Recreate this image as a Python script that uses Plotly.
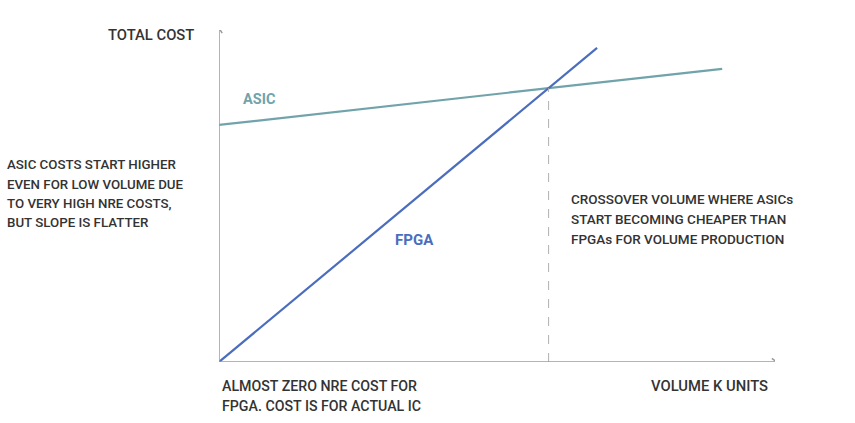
import plotly.graph_objects as go

# ---- data (volume in arbitrary K units, cost in arbitrary units) ----
asic_volume = [0, 90.5]
asic_cost = [71.4, 88.3]
fpga_volume = [0, 68.0]
fpga_cost = [0, 94.6]

W, H = 855, 423
L, R, T, B = 219, 80, 30, 61
PW, PH = W - L - R, H - T - B
XMAX, YMAX = 100, 100

def px(x):
    return (x - L) / PW

def py(y):
    return (H - B - y) / PH

# crossover
sa = (asic_cost[1] - asic_cost[0]) / (asic_volume[1] - asic_volume[0])
sf = (fpga_cost[1] - fpga_cost[0]) / (fpga_volume[1] - fpga_volume[0])
xc = (asic_cost[0] - fpga_cost[0]) / (sf - sa)
yc = asic_cost[0] + sa * xc

TEAL = "#70a3aa"
BLUE = "#4b6dbd"
AX = "#9b9b9b"
TXT = "#333333"
FONT = "Roboto, 'Liberation Sans', sans-serif"

fig = go.Figure()
fig.add_trace(go.Scatter(x=asic_volume, y=asic_cost, mode="lines",
                         line=dict(color=TEAL, width=2.2), hoverinfo="skip"))
fig.add_trace(go.Scatter(x=fpga_volume, y=fpga_cost, mode="lines",
                         line=dict(color=BLUE, width=2.2), hoverinfo="skip"))
fig.add_trace(go.Scatter(x=[xc, xc], y=[0, yc], mode="lines",
                         line=dict(color="#b0b0b0", width=1, dash="dash"), hoverinfo="skip"))

shapes = []
shapes.append(dict(type="line", xref="x", yref="y", x0=0, y0=0, x1=0, y1=YMAX + 0.6,
                   line=dict(color=AX, width=1.5)))
shapes.append(dict(type="line", xref="x", yref="y", x0=0, y0=0, x1=XMAX + 0.3, y1=0,
                   line=dict(color=AX, width=1.5)))
dxu, dyu = 4 / PW * XMAX, 4 / PH * YMAX
shapes.append(dict(type="path", xref="x", yref="y",
                   path=f"M {-dxu*0.8},{YMAX + 0.6 - dyu*1.3} L 0,{YMAX + 0.6} L {dxu*0.8},{YMAX + 0.6 - dyu*1.3}",
                   line=dict(color=AX, width=1.5)))
shapes.append(dict(type="path", xref="x", yref="y",
                   path=f"M {XMAX + 0.3 - dxu*1.2},{dyu*0.9} L {XMAX + 0.3},0 L {XMAX + 0.3 - dxu*1.2},{-dyu*0.9}",
                   line=dict(color=AX, width=1.5)))

ann = []
def txt(x, y, s, anchor="left", color=TXT, size=13.5, bold=False, weight=500):
    ann.append(dict(x=px(x), y=py(y), xref="paper", yref="paper", text=(f"<b>{s}</b>" if bold else s),
                    showarrow=False, xanchor=anchor, yanchor="middle",
                    font=dict(family=FONT, size=size, color=color, weight=weight)))

txt(196, 35, "TOTAL COST", anchor="right", size=14.8)
txt(241, 100, "ASIC", color=TEAL, size=14.5, bold=True)
txt(393, 240, "FPGA", color=BLUE, size=15, bold=True)
for i, s in enumerate(["ASIC COSTS START HIGHER", "EVEN FOR LOW VOLUME DUE",
                       "TO VERY HIGH NRE COSTS,", "BUT SLOPE IS FLATTER"]):
    txt(5, 165 + 19 * i, s, size=13.3)
for i, s in enumerate(["CROSSOVER VOLUME WHERE ASICs", "START BECOMING CHEAPER THAN",
                       "FPGAs FOR VOLUME PRODUCTION"]):
    txt(569, 199 + 20 * i, s, size=13.5)
for i, s in enumerate(["ALMOST ZERO NRE COST FOR", "FPGA. COST IS FOR ACTUAL IC"]):
    txt(220, 386 + 20 * i, s, size=14.2)
txt(770, 386, "VOLUME K UNITS", anchor="right", size=14.8)

fig.update_layout(
    width=W, height=H, margin=dict(l=L, r=R, t=T, b=B),
    paper_bgcolor="white", plot_bgcolor="white", showlegend=False,
    xaxis=dict(range=[0, XMAX], visible=False, fixedrange=True),
    yaxis=dict(range=[0, YMAX], visible=False, fixedrange=True),
    shapes=shapes, annotations=ann,
)
fig.write_html("out.html", config={"displayModeBar": False},
               post_script="document.body.style.margin='0';")
